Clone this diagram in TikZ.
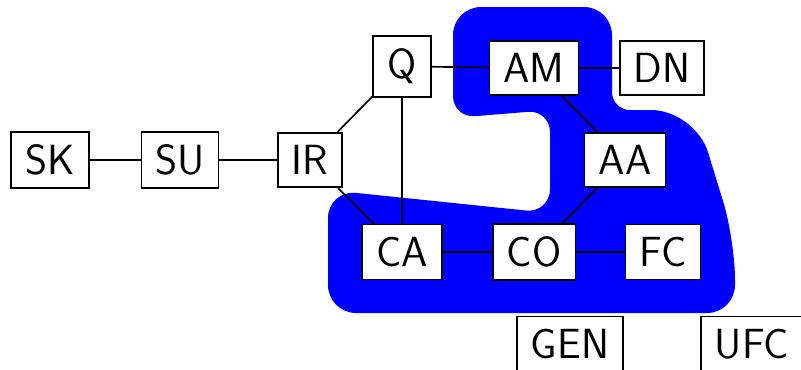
\documentclass[tikz,border=0pt]{standalone}
\usepackage{fontspec}
\usepackage{tikz}
\usetikzlibrary{positioning}

\begin{document}
\begin{tikzpicture}[cell/.style={draw, fill=white, line width=1.2pt, inner xsep=10pt, inner ysep=9pt, font=\sffamily\fontsize{30}{36}\selectfont}]
                \useasboundingbox (0, 0) rectangle (20.025, -9.225);

                % blue region behind the nodes
                \fill[blue] (11.325, -1.5) [rounded corners=0.7cm] -- (11.325, -0.175) -- (15.3, -0.175)
                    [rounded corners=0.45cm] -- (15.3, -2.75) [rounded corners=1.1cm] -- (17.375, -2.75)
                    [rounded corners=1cm] -- (18.375, -6) [rounded corners=0.7cm] -- (18.375, -7.825)
                    -- (8.2, -7.825) -- (8.2, -4.75) [rounded corners=0.6cm] -- (13.75, -5.325)
                    [rounded corners=0.55cm] -- (13.75, -2.75) -- (11.325, -2.95) -- cycle;

                \node[cell] (SK) at (1.25, -4) {SK};
                \node[cell] (SU) at (4.5, -4) {SU};
                \node[cell] (IR) at (7.75, -4) {IR};
                \node[cell] (Q) at (10.05, -1.66) {Q};
                \node[cell] (AM) at (13.35, -1.7) {AM};
                \node[cell] (DN) at (16.55, -1.7) {DN};
                \node[cell] (AA) at (15.625, -4) {AA};
                \node[cell] (CA) at (10.05, -6.3) {CA};
                \node[cell] (CO) at (13.35, -6.3) {CO};
                \node[cell] (FC) at (16.575, -6.3) {FC};
                \node[cell] (GEN) at (14.25, -8.6) {GEN};
                \node[cell, anchor=west] (UFC) at (17.5, -8.6) {UFC};

                \draw[line width=1.2pt] (SK) -- (SU);
                \draw[line width=1.2pt] (SU) -- (IR);
                \draw[line width=1.2pt] (IR) -- (Q);
                \draw[line width=1.2pt] (IR) -- (CA);
                \draw[line width=1.2pt] (Q) -- (CA);
                \draw[line width=1.2pt] (Q) -- (AM);
                \draw[line width=1.2pt] (AM) -- (DN);
                \draw[line width=1.2pt] (AM) -- (AA);
                \draw[line width=1.2pt] (AA) -- (CO);
                \draw[line width=1.2pt] (CA) -- (CO);
                \draw[line width=1.2pt] (CO) -- (FC);
            \end{tikzpicture}
\end{document}
